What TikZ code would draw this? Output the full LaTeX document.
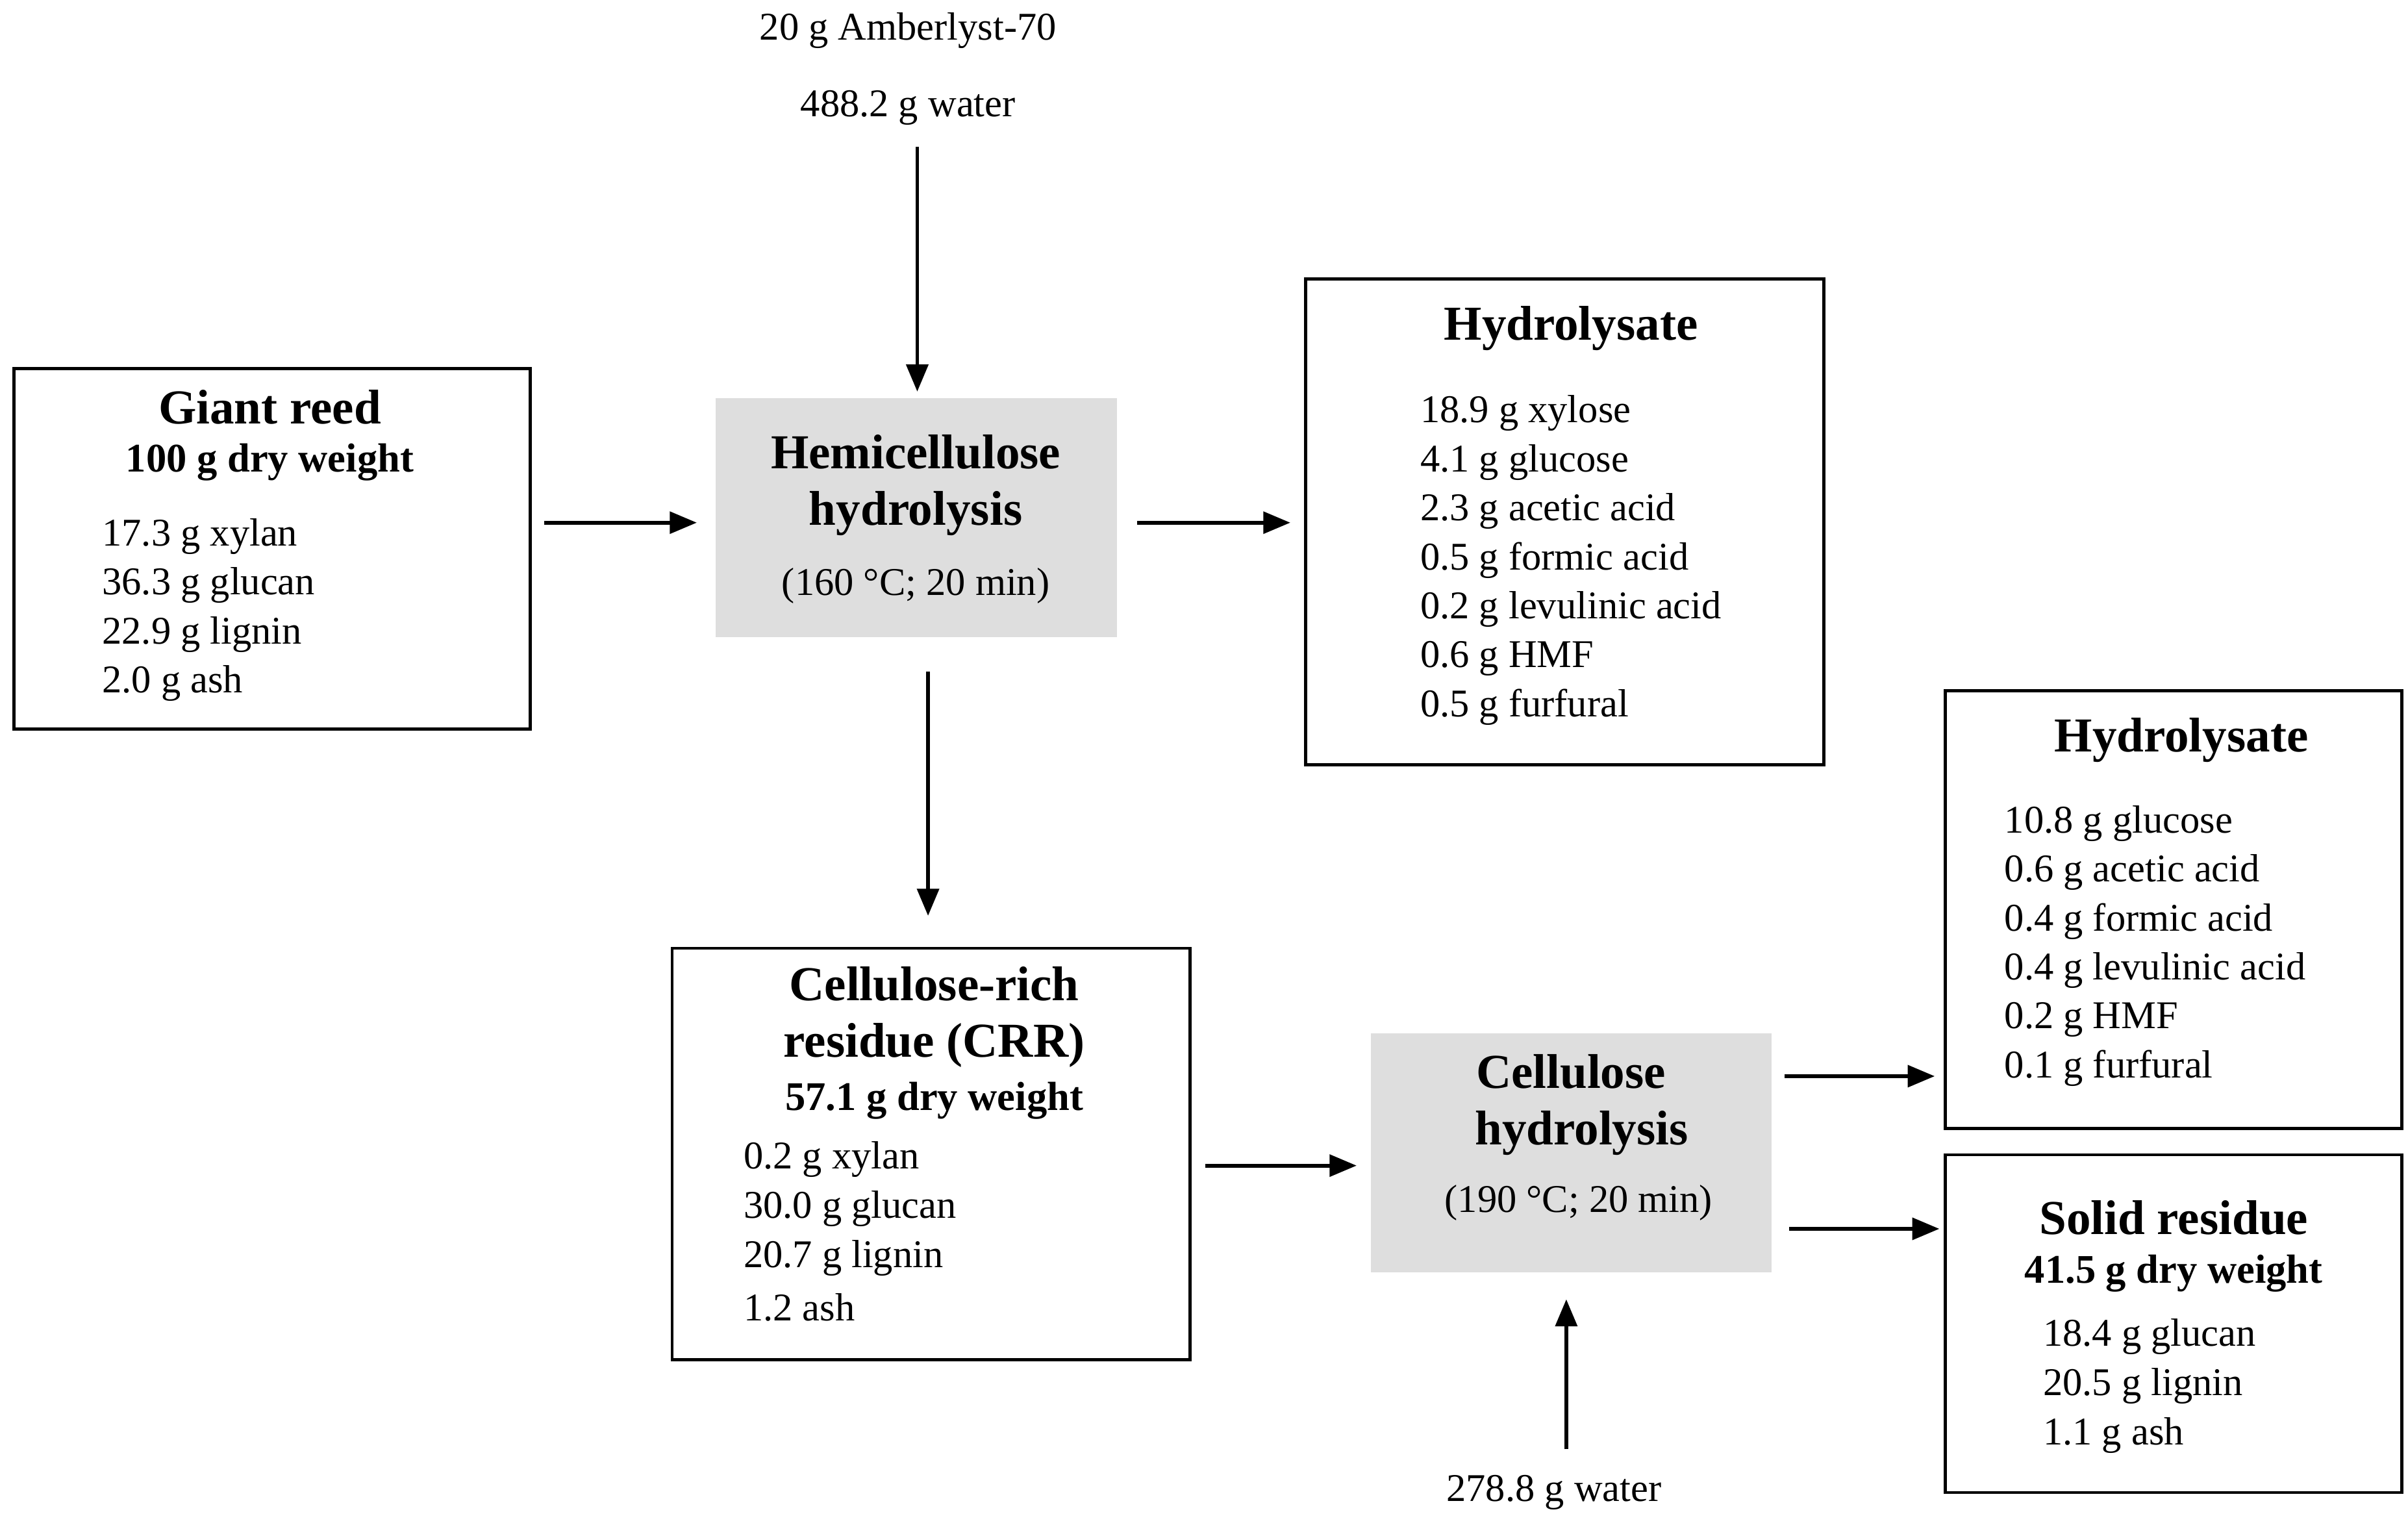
\documentclass[tikz,border=0pt]{standalone}
\usepackage{fontspec}
\setmainfont{Liberation Serif}
\usetikzlibrary{arrows.meta}
\begin{document}
\begin{tikzpicture}[x=0.02cm,y=-0.02cm,
 box/.style={draw,line width=1.1pt,fill=white,anchor=north west,inner sep=0},
 gbox/.style={fill=black!13,anchor=north west,inner sep=0},
 ttl/.style={font=\fontsize{18}{20}\selectfont\bfseries},
 bw/.style={font=\fontsize{15}{17}\selectfont\bfseries},
 txt/.style={font=\fontsize{14.5}{16}\selectfont},
 li/.style={txt,anchor=west,inner sep=0},
 arr/.style={-{Triangle[length=10pt,width=8pt]},line width=1.4pt}]
\useasboundingbox (0,0) rectangle (1562,989);
\node[box,minimum width=335*0.02cm,minimum height=234*0.02cm] (gr) at (8,238) {};
\node[gbox,minimum width=260*0.02cm,minimum height=155*0.02cm] (hh) at (464,258) {};
\node[box,minimum width=336*0.02cm,minimum height=315*0.02cm] (h1) at (846,180) {};
\node[box,minimum width=336*0.02cm,minimum height=267*0.02cm] (crr) at (435,614) {};
\node[gbox,minimum width=260*0.02cm,minimum height=155*0.02cm] (ch) at (889,670) {};
\node[box,minimum width=296*0.02cm,minimum height=284*0.02cm] (h2) at (1261,447) {};
\node[box,minimum width=296*0.02cm,minimum height=219*0.02cm] (sr) at (1261,748) {};
% top inputs
\node[txt] (am) at (589,20) {20 g Amberlyst-70};
\node[txt] (w1) at (589,70) {488.2 g water};
\node[txt] (w2) at (1008,968) {278.8 g water};
% giant reed
\node[ttl] at (175,264) {Giant reed};
\node[bw] at (175,300) {100 g dry weight};
\foreach \t [count=\i from 0] in {17.3 g xylan,36.3 g glucan,22.9 g lignin,2.0 g ash}
  \node[li] at (66,348+31.7*\i) {\t};
% hemi
\node[ttl] at (594,293) {Hemicellulose};
\node[ttl] at (594,333) {hydrolysis};
\node[txt] at (594,380) {(160 °C; 20 min)};
% hydrolysate 1
\node[ttl] at (1019,213) {Hydrolysate};
\foreach \t [count=\i from 0] in {18.9 g xylose,4.1 g glucose,2.3 g acetic acid,0.5 g formic acid,0.2 g levulinic acid,0.6 g HMF,0.5 g furfural}
  \node[li] at (921,268+31.8*\i) {\t};
% CRR
\node[ttl] at (606,638) {Cellulose-rich};
\node[ttl] at (606,678) {residue (CRR)};
\node[bw] at (606,714) {57.1 g dry weight};
\foreach \t [count=\i from 0] in {0.2 g xylan,30.0 g glucan,20.7 g lignin,1.2 ash}
  \node[li] at (482,752+32*\i) {\t};
% cellulose
\node[ttl] at (1019,695) {Cellulose};
\node[ttl] at (1026,735) {hydrolysis};
\node[txt] at (1024,780) {(190 °C; 20 min)};
% hydrolysate 2
\node[ttl] at (1415,480) {Hydrolysate};
\foreach \t [count=\i from 0] in {10.8 g glucose,0.6 g acetic acid,0.4 g formic acid,0.4 g levulinic acid,0.2 g HMF,0.1 g furfural}
  \node[li] at (1300,534+31.8*\i) {\t};
% solid
\node[ttl] at (1410,790) {Solid residue};
\node[bw] at (1410,826) {41.5 g dry weight};
\foreach \t [count=\i from 0] in {18.4 g glucan,20.5 g lignin,1.1 g ash}
  \node[li] at (1325,867+32*\i) {\t};
% arrows
\draw[arr] (gr.east|-0,339) ++(8,0) -- ([xshift=-12*0.02cm]hh.west|-0,339);
\draw[arr] (hh.east|-0,339) ++(13,0) -- ([xshift=-9*0.02cm]h1.west|-0,339);
\draw[arr] (595,95) coordinate (t1) -- ([yshift=4*0.02cm]hh.north-|t1);
\draw[arr] ([yshift=-22*0.02cm]hh.south-|602,0) -- ([yshift=20*0.02cm]crr.north-|602,0);
\draw[arr] (crr.east|-0,756) ++(9,0) -- ([xshift=-9*0.02cm]ch.west|-0,756);
\draw[arr] (ch.east|-0,698) ++(8,0) -- ([xshift=-6*0.02cm]h2.west|-0,698);
\draw[arr] (ch.east|-0,797) ++(11,0) -- ([xshift=-3*0.02cm]sr.west|-0,797);
\draw[arr] (1016,940) coordinate (b1) -- ([yshift=-17*0.02cm]ch.south-|b1);
\end{tikzpicture}
\end{document}
